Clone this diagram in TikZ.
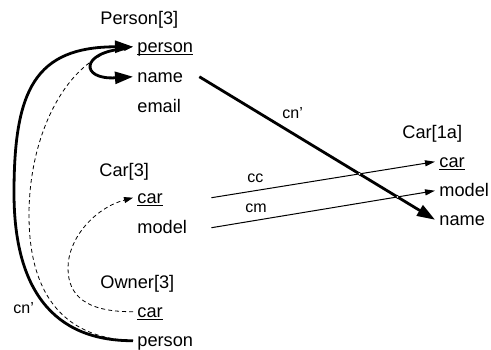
\documentclass[tikz,border=0pt]{standalone}
\usepackage{fontspec}
\setmainfont{Liberation Sans}
\usetikzlibrary{arrows.meta,calc,intersections}
\newcommand{\keyattr}[1]{\setbox0=\hbox{#1}\rlap{\vrule height -0.9pt depth 1.4pt width \wd0}\box0}
\tikzset{
  title/.style={anchor=base west,inner sep=0pt},
  attr/.style={anchor=base west,inner xsep=2pt,inner ysep=0pt,
               text height=1ex,text depth=0pt},
  lab/.style={anchor=base west,inner sep=0pt,font=\fontsize{8}{9.6}\selectfont},
  thickarrow/.style={-{Triangle[length=9pt,width=6pt]},line width=1.4pt},
  thinarrow/.style={-{Triangle[length=5pt,width=3pt]},line width=0.5pt},
  dasharrow/.style={-{Triangle[length=4.5pt,width=3pt]},line width=0.4pt,
                    dash pattern=on 2pt off 1.5pt},
  jump/.style={circle,draw,fill=white,line width=0.3pt,inner sep=0pt,
               minimum size=1.6pt}
}
\begin{document}
\begin{tikzpicture}[x=0.5pt,y=-0.5pt,font=\fontsize{9.1}{11}\selectfont]
  \useasboundingbox (0,0) rectangle (491,349);
  % Person[3]
  \node[title] (person) at (100,24) {Person[3]};
  \node[attr] (pperson) at (133,52) {\keyattr{person}};
  \node[attr] (pname) at (133,82) {name};
  \node[attr] (pemail) at (133,112) {email};
  % Car[3]
  \node[title] (car) at (99,176) {Car[3]};
  \node[attr] (ccar) at (133,203) {\keyattr{car}};
  \node[attr] (cmodel) at (133,233) {model};
  % Owner[3]
  \node[title] (owner) at (100,288) {Owner[3]};
  \node[attr] (ocar) at (133,317) {\keyattr{car}};
  \node[attr] (operson) at (133,346) {person};
  % Car[1a]
  \node[title] (carx) at (402,138) {Car[1a]};
  \node[attr] (xcar) at (435,167) {\keyattr{car}};
  \node[attr] (xmodel) at (435,196) {model};
  \node[attr] (xname) at (435,225) {name};

  % references
  \draw[dasharrow] (operson.west) .. controls (60,338) and (29,290) .. (29,215)
    .. controls (29,130) and (70,55) .. (pperson.west);
  \draw[thickarrow] (operson.west) .. controls (53,341) and (14,289) .. (14,193)
    .. controls (14,90) and (35,47) .. (pperson.west);
  \draw[thickarrow] ($(pperson.west)+(-8,2)$) .. controls (80,52) and (80,80) .. (pname.west);
  \draw[dasharrow] (ocar.west) .. controls (85,312) and (68,295) .. (68,268)
    .. controls (68,238) and (95,208) .. (ccar.west);
  \draw[thinarrow,name path=cc] ($(ccar.east -| cmodel.east)+(20,0)$) -- (xcar.west);
  \draw[thinarrow,name path=cm] ($(cmodel.east)+(20,0)$) -- (xmodel.west);
  \draw[thickarrow,name path=cn] ($(pname.east)+(12,0)$) -- (xname.west);
  \path[name intersections={of=cn and cc,by=jc}];
  \path[name intersections={of=cn and cm,by=jm}];
  \node[jump] (jcc) at (jc) {};
  \node[jump] (jcm) at (jm) {};

  % labels
  \node[lab] (lcn) at (282,118) {cn'};
  \node[lab] (lcc) at (247,182) {cc};
  \node[lab] (lcm) at (245,212) {cm};
  \node[lab] (lcnb) at (13,313) {cn'};
\end{tikzpicture}
\end{document}
